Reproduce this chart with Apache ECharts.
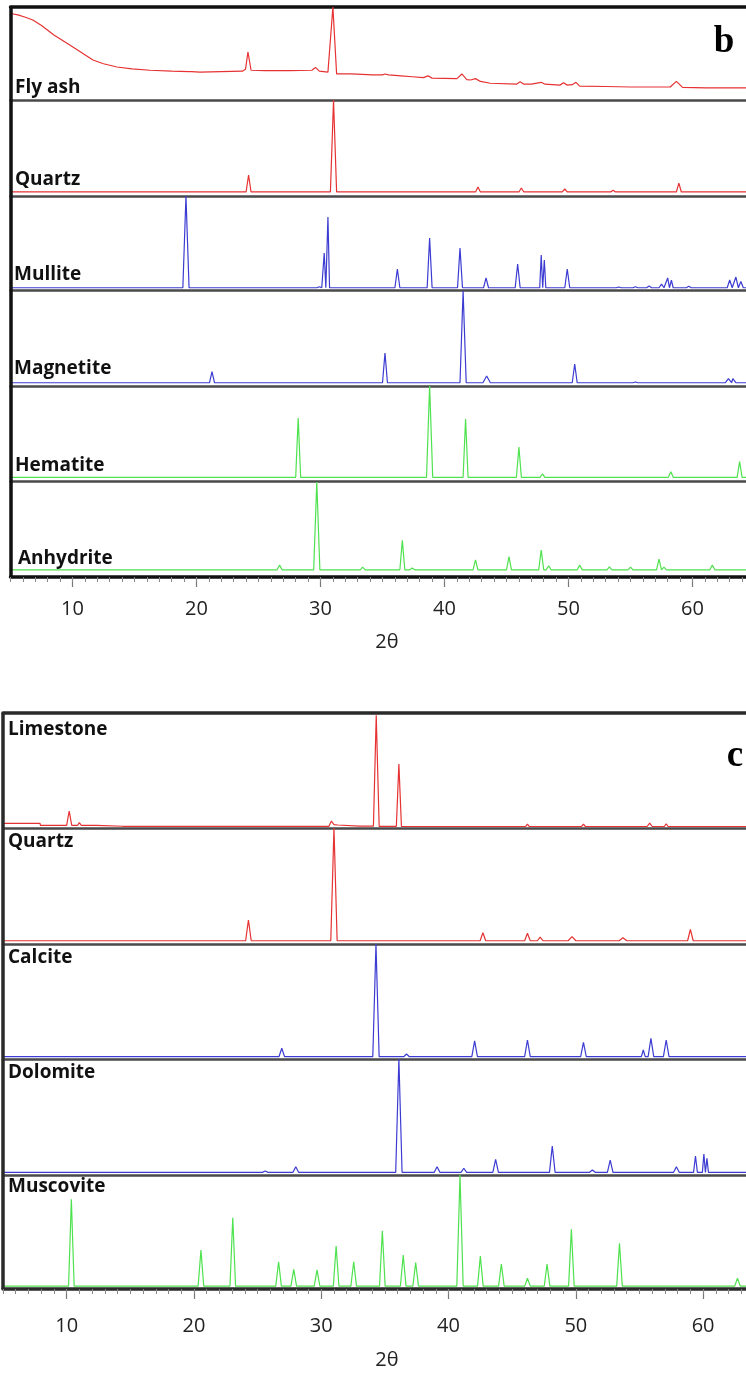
<!DOCTYPE html>
<html>
<head>
<meta charset="utf-8">
<script src="https://cdn.jsdelivr.net/npm/echarts@6/dist/echarts.min.js"></script>
<style>html,body{margin:0;padding:0;background:#fff}#c{width:746px;height:1373px}</style>
</head>
<body>
<div id="c"></div>
<script>
// ---------- DATA (2θ, relative intensity 0-100 per row) ----------
const namesB = ['Fly ash', 'Quartz', 'Mullite', 'Magnetite', 'Hematite', 'Anhydrite'];
const namesC = ['Limestone', 'Quartz', 'Calcite', 'Dolomite', 'Muscovite'];
const xTicks = [10, 20, 30, 40, 50, 60];

// Fly ash: explicit trace points (amorphous hump + peaks)
const flyAsh = [[5.0,93],[5.6,91.5],[6.2,89],[6.8,86],[7.5,80],[8.5,70],[9.56,61],[10.5,53],[11.65,43],[12.5,39],[13.59,35.5],[14.8,33.5],[16.25,32],[18,31],[19.4,30.5],[19.5,31.5],[19.6,30.5],[20.28,30],[22,30.5],[23.7,31],[23.95,33],[24.15,51.6],[24.4,32],[25.5,31.5],[27.5,31.5],[29.3,32],[29.6,35],[29.9,31],[30.6,30],[31.0,100],[31.3,28],[32.5,28],[34.2,27],[35.0,27],[35.2,28],[35.5,27],[36.5,26],[37.4,25],[38.3,24],[38.67,26],[39.0,23.5],[41.0,23],[41.4,28],[41.8,22],[42.1,21.5],[42.5,23],[42.9,20],[43.7,18],[45.8,17],[46.1,19.5],[46.4,17],[47.0,17],[47.8,19],[48.1,17],[49.3,16],[49.6,18.5],[49.9,16],[50.3,16.5],[50.6,19],[50.9,15],[53,14.5],[55,14],[58.2,14],[58.7,20],[59.2,13.5],[61.1,13],[66,13]];

// Other patterns: flat baseline + peak list [2θ, apex, halfWidth?]
const quartzBBase = 4.2;
const quartzBPeaks = [[24.2,21.9],[31.05,100,0.25],[42.7,9.4],[46.2,8.3],[49.7,7.3],[53.6,6],[58.9,13.5]];
const mulliteBase = 2.4;
const mullitePeaks = [[19.15,100,0.25],[27.0,3.6,0.1],[27.25,3.6,0.1],[29.9,3.5],[30.3,39.4,0.13],[30.6,77.7,0.13],[36.2,22.3],[38.8,55.3],[41.25,44.7],[43.35,12.8],[45.9,27.7],[47.8,37.2,0.12],[48.05,31.9,0.12],[49.9,22.3],[54.05,3.2],[55.4,3.5],[56.5,4.3],[57.5,6.4],[58.0,12.8,0.14],[58.3,10.6,0.14],[59.7,4],[63.0,10.6],[63.5,13.8],[63.9,9]];
const magnetiteBase = 3.4;
const magnetitePeaks = [[21.25,14.9],[35.2,34.4],[41.5,99,0.25],[43.4,10.4,0.3],[50.5,22.9],[55.4,4.2],[62.9,7.6,0.25],[63.25,7.6,0.25]];
const hematiteBase = 3.9;
const hematitePeaks = [[28.2,66.3],[38.8,100,0.25],[41.7,65.3],[46.0,35.8],[47.9,7.4],[58.25,9.8],[63.8,20.3]];
const anhydriteBase = 7.5;
const anhydritePeaks = [[26.7,12.4],[29.7,99,0.25],[33.4,10.3],[36.6,38.1],[37.4,9.3],[42.5,17.8],[45.2,21.3],[47.8,28.1],[48.4,11.6],[50.9,12.4],[53.3,10.6],[55.0,10.3],[57.3,18.6],[57.7,10.3],[61.6,12.4]];

// Limestone: explicit trace points
const limestone = [[5.0,4.1],[7.9,4.1],[7.95,2.2],[10.0,2.2],[10.2,14.8],[10.4,2.2],[10.85,2.2],[11.0,4.6],[11.15,2.2],[12.35,2.2],[12.4,1.5],[14.4,1.5],[14.5,2.8],[14.6,1.5],[20.5,1.5],[20.6,2.6],[20.7,1.5],[30.6,1.5],[30.8,6.1],[31.0,3],[31.3,2.6],[33.0,1.6],[34.1,1.6],[34.32,98],[34.55,1.5],[35.9,1.5],[36.1,55.7],[36.3,1.3],[41.9,1.3],[42.05,3],[42.2,1.3],[46.05,1.3],[46.2,3.4],[46.35,1.3],[48.1,1.3],[48.2,2.5],[48.3,1.3],[50.45,1.3],[50.6,3.3],[50.75,1.3],[52.6,1.3],[52.7,2.6],[52.8,1.3],[53.2,1.3],[53.3,2.6],[53.4,1.3],[55.6,1.3],[55.8,4.3],[56.0,1.3],[56.95,1.3],[57.1,3.5],[57.25,1.3],[59.3,1.3],[59.4,2.6],[59.5,1.3],[60.0,1.3],[60.1,2.6],[60.2,1.3],[66,1.3]];
const quartzCBase = 2.8;
const quartzCPeaks = [[24.28,20.7],[31.0,100,0.25],[42.7,9.7],[46.2,9.2],[47.2,6],[49.7,6.3,0.3],[53.7,5.4,0.3],[59.0,12.7]];
const calciteBase = 2;
const calcitePeaks = [[26.9,9.3],[34.3,100,0.25],[36.7,4.3],[42.05,15.7],[46.2,16.5],[50.6,14.5],[55.3,7.8,0.15],[55.9,18],[57.1,16.5]];
const dolomiteBase = 2.3;
const dolomitePeaks = [[25.6,3.4],[28.0,7.2],[36.1,100,0.25],[39.1,7.2],[41.2,5.8],[43.7,13.5],[48.15,25],[51.3,4.3],[52.7,12.9],[57.9,7.2],[59.4,16.4,0.15],[60.06,18.1,0.12],[60.3,14.4,0.12]];
const muscoviteBase = 2.5;
const muscovitePeaks = [[10.37,78.7],[20.55,34.2],[23.05,62.5],[26.65,23.9],[27.84,17.3],[29.67,16.7],[31.17,37.7],[32.55,23.9],[34.8,51.1],[36.44,29.8],[37.42,23.1],[40.9,100,0.25],[42.5,28.9],[44.15,21.9],[46.2,9.4],[47.74,21.9],[49.65,52.4],[53.43,40.1],[62.7,9.4]];

// ---------- BUILD ----------
function trace(base, peaks, w0) {
  const pts = [[5, base]];
  peaks.forEach(p => { const w = p[2] || w0; pts.push([p[0] - w, base], [p[0], p[1]], [p[0] + w, base]); });
  pts.push([66, base]);
  return pts;
}
const RED = '#e63232', BLUE = '#3c3cd2', GREEN = '#4fe24f';
const seriesB = [
  [flyAsh, RED], [trace(quartzBBase, quartzBPeaks, 0.2), RED], [trace(mulliteBase, mullitePeaks, 0.2), BLUE],
  [trace(magnetiteBase, magnetitePeaks, 0.2), BLUE], [trace(hematiteBase, hematitePeaks, 0.2), GREEN],
  [trace(anhydriteBase, anhydritePeaks, 0.2), GREEN]
];
const seriesC = [
  [limestone, RED], [trace(quartzCBase, quartzCPeaks, 0.22), RED], [trace(calciteBase, calcitePeaks, 0.22), BLUE],
  [trace(dolomiteBase, dolomitePeaks, 0.22), BLUE], [trace(muscoviteBase, muscovitePeaks, 0.22), GREEN]
];

const XMIN = 5, XMAX = 66;
const panels = [
  { rows: seriesB, names: namesB, tops: [7,100,196,290,386,481,577], left: 10.5, right: -20.9,
    labelX: [15,15,14,14,15,18], labelY: [87.5,179.7,274.8,369,465.5,558.4], tag: 'b', tagXY: [724,42], nameXY: [387,642],
    labelMargin: 22, borderColor: '#111' },
  { rows: seriesC, names: namesC, tops: [713,828,944,1059,1175,1289], left: 3, right: -33.5,
    labelX: [8,8,8,8,8], labelY: [729.5,841.5,958,1072.5,1187], tag: 'c', tagXY: [735,756], nameXY: [387,1360],
    labelMargin: 27, borderColor: '#2a2a2a' }
];

const grid = [], xAxis = [], yAxis = [], series = [], graphic = [];
panels.forEach(P => {
  P.rows.forEach((r, i) => {
    const gi = grid.length;
    const isLast = i === P.rows.length - 1;
    grid.push({ left: P.left, right: P.right, top: P.tops[i], height: P.tops[i + 1] - P.tops[i],
      containLabel: false, outerBoundsMode: 'none' });
    const xi = xAxis.length;
    xAxis.push({
      type: 'value', gridIndex: gi, min: XMIN, max: XMAX, position: 'bottom',
      splitLine: { show: false },
      axisLine: { show: true, onZero: false, lineStyle: isLast ? { color: P.borderColor, width: 3.5 } : { color: '#4a4a4a', width: 2.5 } },
      axisTick: { show: isLast, length: 10, customValues: xTicks, lineStyle: { color: '#777', width: 1.2 } },
      axisLabel: { show: isLast, customValues: xTicks, fontSize: 20, color: '#222', fontFamily: 'Open Sans', margin: P.labelMargin }
    });
    if (isLast) {
      // minor ticks every 1°
      xAxis.push({ type: 'value', gridIndex: gi, min: XMIN, max: XMAX, interval: 1, position: 'bottom',
        axisLine: { show: false, onZero: false }, axisLabel: { show: false }, splitLine: { show: false },
        axisTick: { show: true, length: 5, lineStyle: { color: '#888', width: 1 } } });
    }
    if (i === 0) {
      xAxis.push({ type: 'value', gridIndex: gi, min: XMIN, max: XMAX, position: 'top',
        axisLine: { show: true, onZero: false, lineStyle: { color: P.borderColor, width: 3.5 } },
        axisTick: { show: false }, axisLabel: { show: false }, splitLine: { show: false } });
    }
    yAxis.push({ type: 'value', gridIndex: gi, min: 0, max: 100, show: false });
    series.push({
      type: 'line', xAxisIndex: xi, yAxisIndex: gi, data: r[0], showSymbol: false, symbol: 'none',
      lineStyle: { color: r[1], width: 1.2 }, animation: false, silent: true,
      markLine: { silent: true, symbol: 'none', label: { show: false }, animation: false,
        lineStyle: { color: P.borderColor, width: 3.5, type: 'solid' }, data: [{ xAxis: XMIN }] }
    });
    graphic.push({ type: 'text', x: P.labelX[i], y: P.labelY[i], silent: true,
      style: { text: P.names[i], fontFamily: 'Open Sans', fontWeight: 'bold', fontSize: 19, fill: '#111', verticalAlign: 'middle', align: 'left' } });
  });
  graphic.push({ type: 'text', x: P.tagXY[0], y: P.tagXY[1], silent: true,
    style: { text: P.tag, fontFamily: 'Liberation Serif', fontWeight: 'bold', fontSize: 37, fill: '#000', verticalAlign: 'middle', align: 'center' } });
  graphic.push({ type: 'text', x: P.nameXY[0], y: P.nameXY[1], silent: true,
    style: { text: '2θ', fontFamily: 'Open Sans', fontSize: 20, fill: '#222', verticalAlign: 'middle', align: 'center' } });
});

const chart = echarts.init(document.getElementById('c'), null, { renderer: 'canvas' });
chart.setOption({ animation: false, backgroundColor: '#fff', grid, xAxis, yAxis, series, graphic });
</script>
</body>
</html>
